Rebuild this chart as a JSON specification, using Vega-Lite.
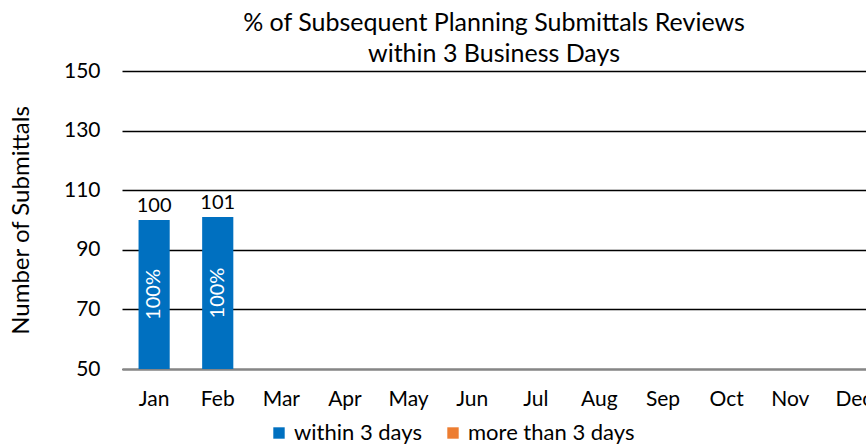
{
  "$schema": "https://vega.github.io/schema/vega-lite/v6.json",
  "autosize": {"type": "none"},
  "width": 744,
  "height": 298,
  "padding": {"left": 122, "top": 71, "right": 0, "bottom": 76},
  "background": "white",
  "config": {
    "font": "Lato",
    "view": {"stroke": null}
  },
  "title": {
    "text": ["% of Subsequent Planning Submittals Reviews", "within 3 Business Days"],
    "fontSize": 25,
    "fontWeight": "normal",
    "font": "Lato",
    "color": "#000000",
    "anchor": "middle",
    "lineHeight": 31,
    "offset": -7
  },
  "data": {
    "values": [
      {"month": "Jan", "category": "within 3 days", "count": 100, "total": 100, "pct": "100%"},
      {"month": "Jan", "category": "more than 3 days", "count": 0, "total": 100, "pct": ""},
      {"month": "Feb", "category": "within 3 days", "count": 101, "total": 101, "pct": "100%"},
      {"month": "Feb", "category": "more than 3 days", "count": 0, "total": 101, "pct": ""}
    ]
  },
  "encoding": {
    "x": {
      "field": "month",
      "type": "nominal",
      "sort": null,
      "scale": {
        "domain": ["Jan", "Feb", "Mar", "Apr", "May", "Jun", "Jul", "Aug", "Sep", "Oct", "Nov", "Dec"],
        "range": [0, 764],
        "paddingInner": 0.51,
        "paddingOuter": 0.26
      },
      "axis": {
        "title": null,
        "labelAngle": 0,
        "labelFontSize": 21,
        "labelColor": "#000000",
        "labelPadding": 19,
        "ticks": false,
        "domainColor": "#868686",
        "domainWidth": 2,
        "grid": false
      }
    }
  },
  "layer": [
    {
      "mark": {"type": "bar", "clip": true},
      "encoding": {
        "y": {
          "field": "count",
          "type": "quantitative",
          "stack": "zero",
          "scale": {"domain": [50, 150], "nice": false, "zero": false},
          "axis": {
            "title": "Number of Submittals",
            "titleFontSize": 24,
            "titleFontWeight": "normal",
            "titleColor": "#000000",
            "titlePadding": 30,
            "values": [50, 70, 90, 110, 130, 150],
            "labelFontSize": 21,
            "labelColor": "#000000",
            "labelPadding": 22,
            "ticks": false,
            "domain": false,
            "grid": true,
            "gridColor": "#000000",
            "gridWidth": 1.3
          }
        },
        "color": {
          "field": "category",
          "type": "nominal",
          "scale": {"domain": ["within 3 days", "more than 3 days"], "range": ["#0070C0", "#ED7D31"]},
          "legend": {
            "title": null,
            "orient": "none",
            "direction": "horizontal",
            "legendX": 146,
            "legendY": 351,
            "symbolType": "square",
            "symbolSize": 130,
            "symbolStrokeWidth": 0,
            "labelFontSize": 22,
            "labelLimit": 0,
            "labelColor": "#000000",
            "labelOffset": 4,
            "columnPadding": 20
          }
        }
      }
    },
    {
      "transform": [{"filter": "datum.category === 'within 3 days'"}],
      "mark": {"type": "text", "dy": -4, "fontSize": 20, "color": "#000000", "baseline": "bottom"},
      "encoding": {
        "y": {"field": "total", "type": "quantitative"},
        "text": {"field": "total", "type": "quantitative"}
      }
    },
    {
      "transform": [{"filter": "datum.category === 'within 3 days'"}, {"calculate": "(datum.count + 50) / 2", "as": "mid"}],
      "mark": {"type": "text", "angle": 270, "fontSize": 20, "color": "#FFFFFF", "align": "center", "baseline": "middle"},
      "encoding": {
        "y": {"field": "mid", "type": "quantitative"},
        "text": {"field": "pct", "type": "nominal"}
      }
    }
  ]
}
